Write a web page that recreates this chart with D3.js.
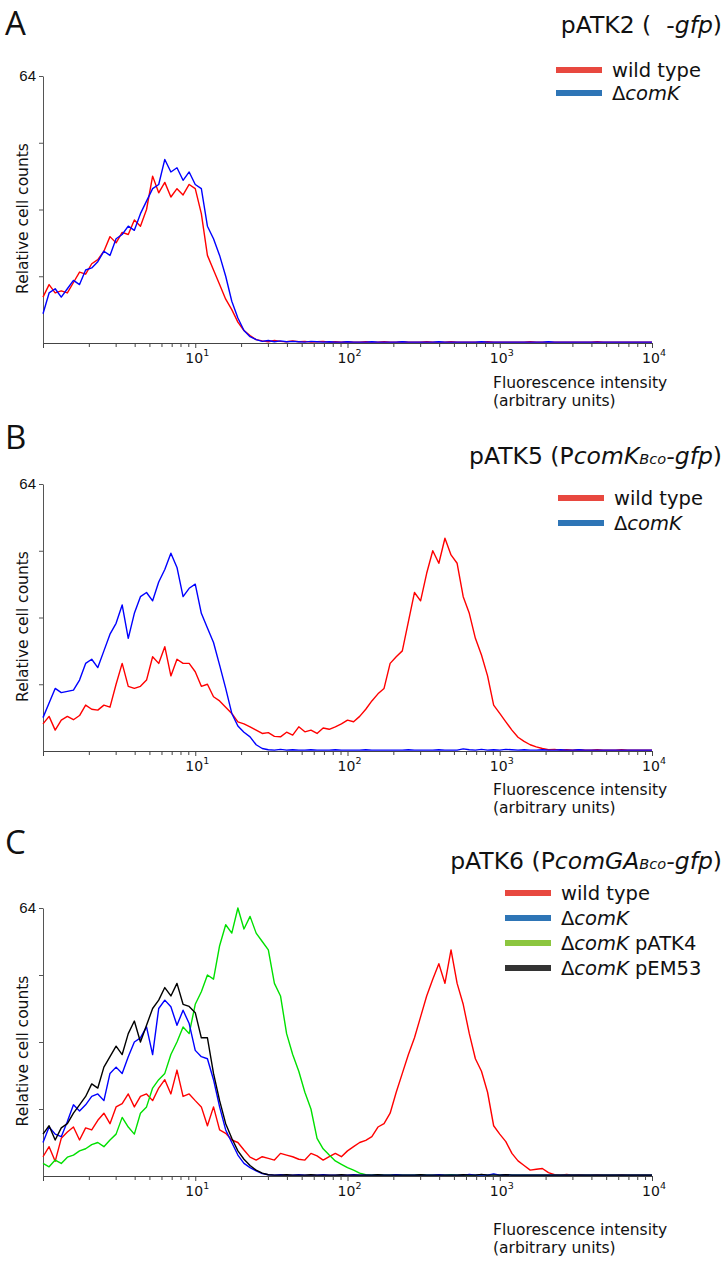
<!DOCTYPE html>
<html>
<head>
<meta charset="utf-8">
<script src="https://cdn.jsdelivr.net/npm/d3@7"></script>
<style>
body { margin: 0; background: #fff; }
svg text { font-family: "DejaVu Sans", Verdana, sans-serif; fill: #111; white-space: pre; }
</style>
</head>
<body>
<svg id="fig" width="726" height="1268"></svg>
<script>
// flow cytometry histograms, 101 log spaced channels from 10^0 to 10^4
var channels = d3.range(101).map(function(i){ return Math.pow(10, i * 0.04); });

var aRed = [11,14,12,12.5,12,14.5,17,16.5,19,20,
	22,25.5,24,26.5,26,29.5,28,32,40,36,
	38.5,35,37,35.5,38,37,31,21,17.5,14,
	10.5,8,5,3,1.8,0.8,
	0.5,0.3,0.6,0.4,0.3,0.5,0.3,0.4,0.2,0.3,
	0.4,0.2,0.3,0.2,0.3,0.2,0.2,0.3,0.2,0.2,
	0.3,0.2,0.2,0.3,0.2,0.2,0.2,0.3,0.2,0.2,
	0.2,0.3,0.2,0.2,0.2,0.2,0.2,0.3,0.2,0.2,
	0.2,0.2,0.2,0.2,0.3,0.2,0.2,0.2,0.2,0.2,
	0.2,0.2,0.2,0.2,0.2,0.3,0.2,0.2,0.2,0.2,
	0.2,0.2,0.2,0.2,0.2];
var aBlue = [7,12,13,11,13,15,14,17.5,18,19.5,
	22,21,25,26,28,27,31,34,37,38,
	44,41,42,39,41,38,37,28,25,21,
	16,10,6,3,1.5,0.8,
	0.4,0.6,0.3,0.5,0.3,0.4,0.3,0.2,0.4,0.3,
	0.2,0.3,0.2,0.2,0.3,0.2,0.2,0.2,0.3,0.2,
	0.2,0.2,0.2,0.3,0.2,0.2,0.2,0.2,0.2,0.3,
	0.2,0.2,0.2,0.2,0.2,0.2,0.3,0.2,0.2,0.2,
	0.2,0.2,0.2,0.2,0.2,0.2,0.2,0.3,0.2,0.2,
	0.2,0.2,0.2,0.2,0.2,0.2,0.2,0.2,0.2,0.2,
	0.2,0.2,0.2,0.2,0.2];

var bRed = [6.5,8.3,5,7.4,8.3,7.5,8.5,11,10,9.8,
	11,10.5,16,21,15.5,15,15.5,17,22.6,21,
	25,18,22,21,21,19,15.5,16,13,12,
	10.5,9,7,6.5,5.8,5,4.2,4.4,3.5,3.4,
	4.5,3.8,5.8,4.6,5,4.2,5.5,5.2,5.8,6.5,
	7.4,7,8.3,10,12,13.7,15,21,22.6,24,
	31,38,36,42.6,48,45,51,47,45,37,
	33,27,23,18,11,9,7,5,3.3,2.3,
	1.5,1,0.6,
	0.3,0.4,0.2,0.3,0.2,0.3,0.2,0.2,0.3,0.2,
	0.2,0.2,0.3,0.2,0.2,0.2,0.2,0.2];
var bBlue = [8,11.5,15,14,14.3,14.6,17,21,22,20,
	24,28,30.6,35,27,33,37,38,36,40.5,
	43.5,47.4,44,37,39,40,33,29.5,26,20.6,
	15,9,6,4.5,3.4,1.5,0.6,
	0.3,0.2,0.4,0.2,0.3,0.2,0.2,0.3,0.2,0.2,
	0.2,0.3,0.2,0.2,0.2,0.2,0.3,0.2,0.2,0.2,
	0.2,0.2,0.2,0.3,0.2,0.2,0.2,0.2,0.3,0.2,
	0.2,0.2,0.5,0.3,0.2,0.4,0.2,0.3,0.2,0.4,
	0.3,0.2,0.3,0.2,0.2,0.3,0.2,0.2,0.3,0.2,
	0.2,0.3,0.2,0.2,0.2,0.2,0.2,0.2,0.2,0.2,
	0.2,0.2,0.2,0.2];

var cRed = [4.6,7,3.5,9,10.5,11.7,8.6,11.5,11,13.3,
	15,12.5,16.5,17.3,19.6,16.5,19,19.6,18,21,
	23,19.6,25.3,19,19.6,18,16.5,12,16.5,11,
	10.2,8.6,8,6.2,4.5,3.8,4.6,4.2,3.8,5.4,
	5,4.6,4,3.8,5.4,4.8,3.8,4.6,5.4,4.6,
	6,7,8,8.5,9.4,11.7,12.5,15,20,24.5,
	29,33,38,43,47,50.7,46,54,46,41,
	34,28,25,20,12,10,8.2,5.4,3.6,2.5,
	1.4,1.6,1.8,0.8,
	0.3,0.2,0.4,0.2,0.3,0.2,0.2,0.3,0.2,0.2,
	0.2,0.3,0.2,0.2,0.2,0.2,0.2];
var cBlue = [8,11.7,10,9.4,13,17,15.5,17,19,19.6,
	18,24.5,26,24.5,28.5,32,33,35.6,29,40,
	42,40.4,36,39.6,36.4,30,28.5,28,23,16.5,
	11,8,5,3,2,1.2,0.6,0.3,
	0.2,0.3,0.2,0.2,0.3,0.2,0.2,0.2,0.3,0.2,
	0.2,0.2,0.2,0.3,0.2,0.2,0.2,0.2,0.2,0.2,
	0.3,0.2,0.2,0.2,0.2,0.2,0.2,0.3,0.2,0.2,
	0.2,0.2,0.4,0.2,0.3,0.2,0.5,0.2,0.3,0.2,
	0.2,0.2,0.2,0.2,0.2,0.2,0.2,0.2,0.2,0.2,
	0.2,0.2,0.2,0.2,0.2,0.2,0.2,0.2,0.2,0.2,
	0.2,0.2,0.2];
var cGreen = [3,2.2,3.8,3,4.5,5,6,6.5,7.5,8,
	7,8.6,10,14,11.7,10,15,16.5,21,23,
	24.5,29,32,35.6,34,41,44,48,47,55,
	60,58,64,59,62,58,56,54,46,43,
	34,29,25,20,16,9,6.5,5,3.6,2.8,
	2,1.4,0.7,
	0.3,0.2,0.3,0.2,0.2,0.3,0.2,0.2,0.2,0.3,
	0.2,0.2,0.2,0.2,0.3,0.2,0.2,0.2,0.2,0.2,
	0.2,0.4,0.2,0.3,0.2,0.2,0.2,0.2,0.2,0.2,
	0.2,0.2,0.2,0.2,0.2,0.2,0.2,0.2,0.2,0.2,
	0.2,0.2,0.2,0.2,0.2,0.2,0.2,0.2];
var cBlack = [10,12,8.6,11.5,12.5,15,17,19,22,21,
	26,28.5,31,29,34,37,32,36,40,42,
	45,43,46,41,40.5,39,33,33,24.5,18,
	12.5,9,6,4,2.5,1.4,0.7,0.3,
	0.2,0.2,0.3,0.2,0.2,0.2,0.3,0.2,0.2,0.2,
	0.2,0.3,0.2,0.2,0.2,0.2,0.2,0.3,0.2,0.2,
	0.2,0.2,0.2,0.2,0.3,0.2,0.2,0.2,0.2,0.2,
	0.2,0.3,0.2,0.2,0.4,0.2,0.2,0.2,0.3,0.2,
	0.2,0.2,0.2,0.2,0.2,0.2,0.2,0.2,0.2,0.2,
	0.2,0.2,0.2,0.2,0.2,0.2,0.2,0.2,0.2,0.2,
	0.2,0.2,0.2];

var seriesNames = ["wild type", "\u0394<i>comK</i>", "\u0394<i>comK</i> pATK4", "\u0394<i>comK</i> pEM53"];
var lineColors = ["#ff0000", "#0000ff", "#00e000", "#000000"];
var swatchColors = ["#e8483f", "#2e75b6", "#8cc63f", "#333333"];
var majorTicks = [1e1, 1e2, 1e3, 1e4];
var yTicks = [16, 32, 48, 64];

var panels = [
	{letter: "A", letterY: 35, title: "pATK2 (  -<i>gfp</i>)", titleY: 33,
	 top: 76, bottom: 343, lines: [[0, aRed], [1, aBlue]],
	 legX: 556, legY: 70, legStep: 23, xlabY: 388, xlabStep: 18},
	{letter: "B", letterY: 449, title: "pATK5 (P<i>comK</i><s>Bco</s><i>-gfp</i>)", titleY: 464,
	 top: 484, bottom: 751, lines: [[0, bRed], [1, bBlue]],
	 legX: 558, legY: 498, legStep: 25, xlabY: 795, xlabStep: 18},
	{letter: "C", letterY: 854, title: "pATK6 (P<i>comGA</i><s>Bco</s><i>-gfp</i>)", titleY: 869,
	 top: 908, bottom: 1176, lines: [[0, cRed], [2, cGreen], [1, cBlue], [3, cBlack]],
	 legX: 505, legY: 893, legStep: 25, xlabY: 1235, xlabStep: 18}
];

var svg = d3.select("#fig");
var x = d3.scaleLog().domain([1, 1e4]).range([43, 652]);

// small markup: <i>italic</i>, <s>small italic</s>
function rich(textSel, str, size) {
	var parts = str.split(/(<i>.*?<\/i>|<s>.*?<\/s>)/);
	parts.forEach(function(p){
		if (!p) return;
		var t = textSel.append("tspan");
		if (p.indexOf("<i>") == 0) {
			t.attr("font-style", "italic").text(p.slice(3, -4));
		} else if (p.indexOf("<s>") == 0) {
			t.attr("font-style", "italic").attr("font-size", size * 0.62).text(p.slice(3, -4));
		} else {
			t.text(p);
		}
	});
}

panels.forEach(function(p){
	var g = svg.append("g");
	var y = d3.scaleLinear().domain([0, 64]).range([p.bottom, p.top]);

	g.append("text")
		.attr("x", 5).attr("y", p.letterY)
		.style("font-family", "'Liberation Sans Narrow', 'Open Sans', sans-serif")
		.attr("font-size", 33)
		.text(p.letter);

	var title = g.append("text")
		.attr("x", 722).attr("y", p.titleY)
		.attr("text-anchor", "end")
		.attr("font-size", 23.5);
	rich(title, p.title, 23.5);

	// x axis with minor ticks for every decade
	var allTicks = [];
	for (var d = 0; d < 4; d++) {
		for (var k = 1; k < 10; k++) allTicks.push(k * Math.pow(10, d));
	}
	allTicks.push(1e4);

	var xa = g.append("g")
		.attr("transform", "translate(0," + p.bottom + ")")
		.call(d3.axisBottom(x).tickValues(allTicks).tickSize(4).tickSizeOuter(0).tickFormat(""));
	xa.selectAll("line").attr("stroke", "#444");
	xa.select(".domain").attr("stroke", "#444");
	xa.selectAll(".tick line").filter(function(v){ return majorTicks.indexOf(v) >= 0 || v == 1; }).attr("y2", 5);

	majorTicks.forEach(function(v, i){
		var lab = g.append("text")
			.attr("x", x(v) + 2).attr("y", p.bottom + 20)
			.attr("text-anchor", "middle")
			.attr("font-size", 14);
		lab.append("tspan").text("10");
		lab.append("tspan").attr("font-size", 9.5).attr("dy", -7).text(i + 1);
	});

	var ya = g.append("g")
		.attr("transform", "translate(43,0)")
		.call(d3.axisLeft(y).tickValues(yTicks).tickSize(4).tickSizeOuter(0)
			.tickFormat(function(v){ return v == 64 ? "64" : ""; }));
	ya.selectAll("line").attr("stroke", "#555");
	ya.select(".domain").attr("stroke", "#555");
	ya.selectAll("text")
		.attr("font-size", 15)
		.style("font-family", "'Liberation Sans Narrow', sans-serif")
		.attr("fill", "#111");

	g.append("text")
		.attr("transform", "translate(28," + ((p.top + p.bottom) / 2 + 9) + ") rotate(-90)")
		.attr("text-anchor", "middle")
		.attr("font-size", 15.5)
		.text("Relative cell counts");

	g.append("text").attr("x", 493).attr("y", p.xlabY).attr("font-size", 15.5)
		.text("Fluorescence intensity");
	g.append("text").attr("x", 493).attr("y", p.xlabY + p.xlabStep).attr("font-size", 15.5)
		.text("(arbitrary units)");

	var line = d3.line()
		.x(function(v, i){ return x(channels[i]); })
		.y(function(v){ return y(v); });

	p.lines.forEach(function(s){
		g.append("path")
			.attr("d", line(s[1]))
			.attr("fill", "none")
			.attr("stroke", lineColors[s[0]])
			.attr("stroke-width", 1.4)
			.attr("stroke-linejoin", "round");
	});

	// legend, in series order
	var ids = p.lines.map(function(s){ return s[0]; }).sort();
	ids.forEach(function(id, j){
		var ly = p.legY + j * p.legStep;
		g.append("rect")
			.attr("x", p.legX).attr("y", ly - 3)
			.attr("width", 46).attr("height", 6)
			.attr("fill", swatchColors[id]);
		var t = g.append("text")
			.attr("x", p.legX + 56).attr("y", ly + 7)
			.attr("font-size", 19.5);
		rich(t, seriesNames[id], 19.5);
	});
});
</script>
</body>
</html>
